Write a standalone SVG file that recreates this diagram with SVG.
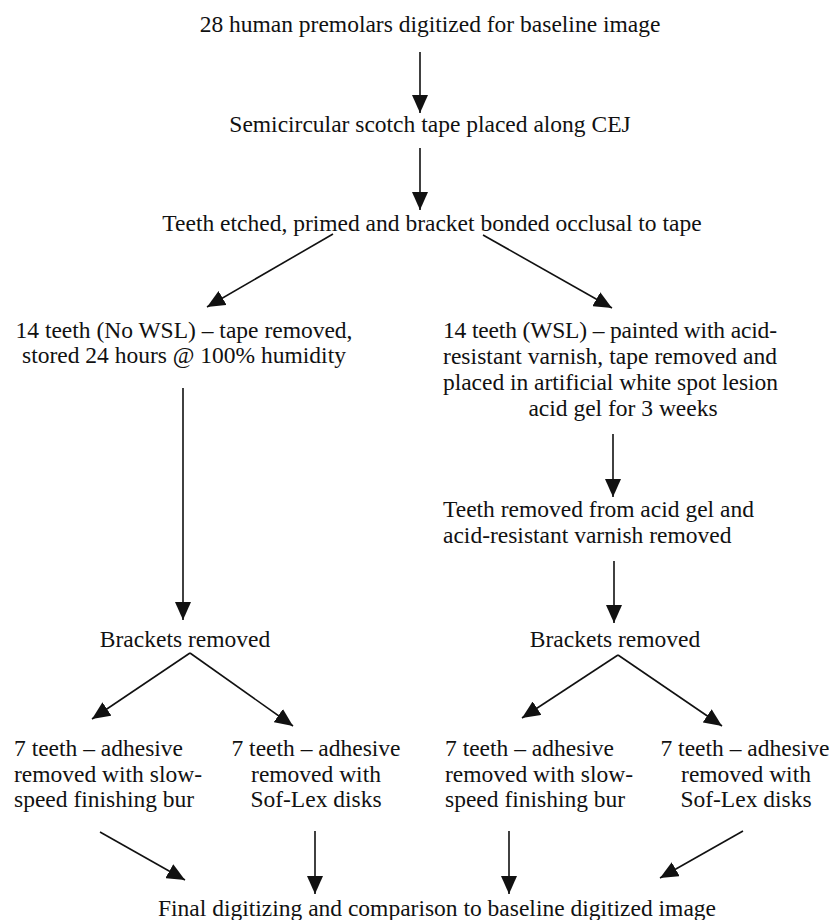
<svg xmlns="http://www.w3.org/2000/svg" width="830" height="920" viewBox="0 0 830 920">
<style>
text{font-family:"Liberation Serif","Times New Roman",serif;font-size:23.5px;fill:#111}
.c{text-anchor:middle}
.e{stroke:#111;stroke-width:1.6;fill:none;marker-end:url(#ah)}
</style>
<defs>
<marker id="ah" markerUnits="userSpaceOnUse" markerWidth="18" markerHeight="16" refX="18" refY="8" orient="auto" viewBox="0 0 18 16"><path d="M0,0 L18,8 L0,16 z" fill="#111"/></marker>
</defs>
<rect width="830" height="920" fill="#fff"/>
<g id="n1"><text class="c" x="430" y="32">28 human premolars digitized for baseline image</text></g>
<g id="n2"><text class="c" x="430" y="132">Semicircular scotch tape placed along CEJ</text></g>
<g id="n3"><text class="c" x="432" y="231">Teeth etched, primed and bracket bonded occlusal to tape</text></g>
<g id="n4"><text class="c" x="184" y="338">14 teeth (No WSL) – tape removed,</text><text class="c" x="184" y="363">stored 24 hours @ 100% humidity</text></g>
<g id="n5"><text x="443" y="338" textLength="334" lengthAdjust="spacing">14 teeth (WSL) – painted with acid-</text><text x="443" y="363.5" textLength="334" lengthAdjust="spacing">resistant varnish, tape removed and</text><text x="443" y="389.5" textLength="335" lengthAdjust="spacing">placed in artificial white spot lesion</text><text class="c" x="623" y="416">acid gel for 3 weeks</text></g>
<g id="n6"><text x="443" y="517">Teeth removed from acid gel and</text><text x="443" y="543">acid-resistant varnish removed</text></g>
<g id="n7"><text class="c" x="185" y="647">Brackets removed</text></g>
<g id="n8"><text class="c" x="615" y="647">Brackets removed</text></g>
<g id="n9"><text x="14" y="756">7 teeth – adhesive</text><text x="14" y="782">removed with slow-</text><text x="14" y="807">speed finishing bur</text></g>
<g id="n10"><text class="c" x="316" y="756">7 teeth – adhesive</text><text class="c" x="316" y="782">removed with</text><text class="c" x="316" y="807">Sof-Lex disks</text></g>
<g id="n11"><text x="445" y="756">7 teeth – adhesive</text><text x="445" y="782">removed with slow-</text><text x="445" y="807">speed finishing bur</text></g>
<g id="n12"><text class="c" x="745" y="756">7 teeth – adhesive</text><text class="c" x="746" y="782">removed with</text><text class="c" x="746" y="807">Sof-Lex disks</text></g>
<g id="n13"><text class="c" x="437" y="916">Final digitizing and comparison to baseline digitized image</text></g>
<g id="connectors">
<path class="e" d="M420,52 L420,113"/>
<path class="e" d="M420,148 L420,210"/>
<path class="e" d="M333,234 L207,307"/>
<path class="e" d="M483,235 L612,308"/>
<path class="e" d="M183,388 L183,620"/>
<path class="e" d="M613,434 L613,497"/>
<path class="e" d="M614,561 L614,623"/>
<path class="e" d="M190,653 L92,719"/>
<path class="e" d="M190,653 L293,726"/>
<path class="e" d="M618,655 L522,718"/>
<path class="e" d="M618,655 L722,726"/>
<path class="e" d="M100,832 L185,880"/>
<path class="e" d="M315,831 L315,894"/>
<path class="e" d="M509,831 L509,894"/>
<path class="e" d="M743,831 L660,878"/>
</g>
</svg>
